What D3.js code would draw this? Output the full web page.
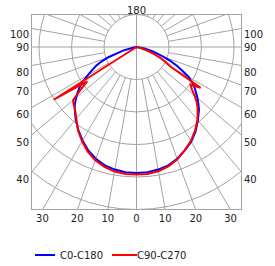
<!DOCTYPE html>
<html>
<head>
<meta charset="utf-8">
<script src="https://cdn.jsdelivr.net/npm/d3@7"></script>
<style>
  body { margin: 0; background: #fff; }
  text { font-family: "DejaVu Sans", Verdana, sans-serif; font-size: 10px; fill: #222; }
</style>
</head>
<body>
<svg id="chart" width="275" height="266"></svg>
<script>
//======= data =======//
let angles = [0, 5, 10, 15, 20, 25, 30, 35, 40, 45, 47.5, 50, 52.5, 55, 57.5, 60, 62.5, 65, 67.5, 70, 75, 80, 85, 90];
// C0-C180 plane (C0 right, C180 left)
let c0   = [38.8, 38.7, 38.3, 37.7, 36.6, 35.1, 33.7, 31.7, 29.4, 27.2, 25.8, 24.5, 23.1, 21.8, 20.3, 18.6, 16.0, 13.8, 11.4, 8.9, 5.2, 2.5, 0.6, 0];
let c180 = [38.8, 38.7, 38.3, 37.7, 36.6, 35.1, 33.2, 31.2, 29.1, 26.9, 25.7, 24.2, 22.8, 21.2, 19.4, 17.2, 15.4, 13.7, 11.7, 9.2, 4.3, 0.9, 0, 0];
// C90-C270 plane (C90 right, C270 left)
let c90  = [39.2, 39.2, 38.8, 38.0, 36.8, 35.1, 33.4, 31.4, 29.2, 26.6, 25.1, 23.4, 21.5, 20.3, 23.4, 12.3, 10.2, 8.3, 6.2, 4.0, 1.5, 0, 0, 0];
let c270 = [39.2, 39.2, 38.9, 38.2, 37.1, 35.5, 33.5, 31.4, 28.8, 26.8, 26.2, 25.5, 21.8, 18.5, 30.2, 0, 0, 0, 0, 0, 0, 0, 0, 0];

let rings = [10, 20, 30, 40, 50];
let sideTicks = [40, 50, 60, 70, 80, 90, 100];
let bottomTicks = [0, 10, 20, 30];
let topTick = 180;
let seriesNames = ['C0-C180', 'C90-C270'];

//======= layout =======//
let box = { left: 31, top: 14, right: 242, bottom: 210 };
let cx = 136.5, cy = 47;
let gridColor = '#a3a3a3';

let svg = d3.select('#chart');

let r = d3.scaleLinear().domain([0, 50]).range([0, 162.5]);
let rad = d => d * Math.PI / 180;

svg.append('clipPath').attr('id', 'clip')
  .append('rect')
  .attr('x', box.left).attr('y', box.top)
  .attr('width', box.right - box.left).attr('height', box.bottom - box.top);

let grid = svg.append('g').attr('clip-path', 'url(#clip)')
  .attr('fill', 'none').attr('stroke', gridColor).attr('stroke-width', 1);

// rings
grid.selectAll('circle')
  .data(rings)
  .enter()
  .append('circle')
  .attr('cx', cx).attr('cy', cy)
  .attr('r', d => r(d));

// spokes every 10 deg, starting at the first ring
let spokes = d3.range(0, 360, 10).filter(a => a % 90 != 0);
grid.selectAll('line.spoke')
  .data(spokes)
  .enter()
  .append('line')
  .attr('class', 'spoke')
  .attr('x1', a => cx + r(rings[0]) * Math.sin(rad(a)))
  .attr('y1', a => cy + r(rings[0]) * Math.cos(rad(a)))
  .attr('x2', a => cx + 400 * Math.sin(rad(a)))
  .attr('y2', a => cy + 400 * Math.cos(rad(a)));

// axes through the centre
grid.append('line').attr('x1', box.left).attr('x2', box.right).attr('y1', cy).attr('y2', cy);
grid.append('line').attr('x1', cx).attr('x2', cx).attr('y1', box.top).attr('y2', box.bottom);

// frame
svg.append('rect')
  .attr('x', box.left + 0.5).attr('y', box.top + 0.5)
  .attr('width', box.right - box.left - 1).attr('height', box.bottom - box.top - 1)
  .attr('fill', 'none').attr('stroke', gridColor);

//======= labels =======//
let dxEdge = cx - box.left;
// side labels sit a little under the spoke, except the horizontal one
let sideY = a => cy + dxEdge * Math.cos(rad(a)) / Math.sin(rad(a)) + (a == 90 ? 0 : 6.5);

svg.selectAll('text.left')
  .data(sideTicks)
  .enter()
  .append('text')
  .attr('class', 'left')
  .attr('x', box.left - 2)
  .attr('y', sideY)
  .attr('dy', '0.36em')
  .attr('text-anchor', 'end')
  .text(d => d);

svg.selectAll('text.right')
  .data(sideTicks)
  .enter()
  .append('text')
  .attr('class', 'right')
  .attr('x', box.right + 2)
  .attr('y', sideY)
  .attr('dy', '0.36em')
  .attr('text-anchor', 'start')
  .text(d => d);

let bottomData = [];
bottomTicks.forEach(a => {
  bottomData.push(-a);
  if (a != 0) bottomData.push(a);
});
svg.selectAll('text.bottom')
  .data(bottomData)
  .enter()
  .append('text')
  .attr('class', 'bottom')
  .attr('x', a => cx + (box.bottom - cy) * Math.tan(rad(a)))
  .attr('y', 218)
  .attr('dy', '0.36em')
  .attr('text-anchor', 'middle')
  .text(a => Math.abs(a));

svg.append('text')
  .attr('x', cx).attr('y', 10).attr('dy', '0.36em')
  .attr('text-anchor', 'middle')
  .text(topTick);

//======= curves =======//
function halfPlanes(right, left) {
  let pts = [];
  for (let i = angles.length - 1; i >= 0; i--) pts.push({ g: -angles[i], v: left[i] });
  for (let i = 0; i < angles.length; i++) pts.push({ g: angles[i], v: right[i] });
  return pts;
}

let series = [
  { name: seriesNames[0], color: '#0000ff', pts: halfPlanes(c0, c180) },
  { name: seriesNames[1], color: '#ff0000', pts: halfPlanes(c90, c270) }
];

let radial = d3.lineRadial()
  .angle(d => Math.PI - rad(d.g))
  .radius(d => r(d.v));

let curves = svg.append('g').attr('transform', 'translate(' + cx + ',' + cy + ')');
curves.selectAll('path')
  .data(series)
  .enter()
  .append('path')
  .attr('d', d => radial(d.pts))
  .attr('fill', 'none')
  .attr('stroke', d => d.color)
  .attr('stroke-width', 2)
  .attr('stroke-linejoin', 'miter');

//======= legend =======//
let legendX = [35, 112];
let legend = svg.selectAll('g.legend')
  .data(series)
  .enter()
  .append('g')
  .attr('class', 'legend')
  .attr('transform', (d, i) => 'translate(' + legendX[i] + ',255)');

legend.append('line')
  .attr('x1', 0).attr('x2', (d, i) => i == 0 ? 20 : 25)
  .attr('y1', 0).attr('y2', 0)
  .attr('stroke', d => d.color)
  .attr('stroke-width', 2);

legend.append('text')
  .attr('x', (d, i) => i == 0 ? 25 : 25)
  .attr('y', 0)
  .attr('dy', '0.36em')
  .text(d => d.name);
</script>
</body>
</html>
